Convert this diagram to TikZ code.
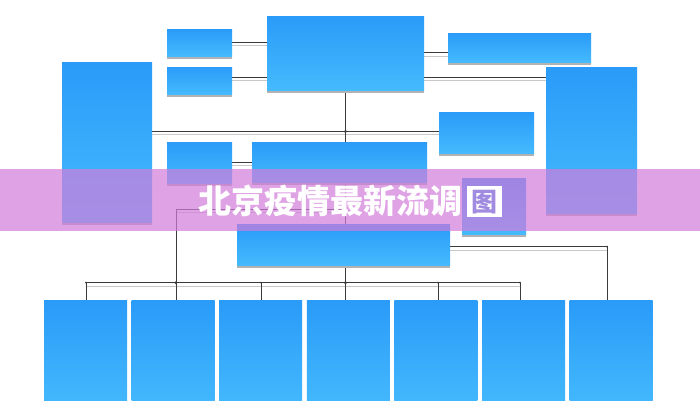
\documentclass[tikz,border=0pt]{standalone}
\usepackage{fontspec}
\newfontfamily\cjk{Noto Sans CJK SC}
\usetikzlibrary{shadows,calc}
\definecolor{boxtop}{HTML}{2A9BF8}
\definecolor{boxbot}{HTML}{45BAFD}
\definecolor{lineC}{HTML}{3A3A3A}
\definecolor{lineS}{HTML}{C8C8C8}
\definecolor{bandC}{RGB}{210,124,219}
\definecolor{glyphC}{HTML}{A08BE0}
\pgfdeclarelayer{bg}
\pgfsetlayers{bg,main}
\newcommand\wirepaths[1]{%
  \draw[#1] (A1.east) -- (A1.east -| T.west);
  \draw[#1] (A2.east |- yA2) -- (T.west |- yA2);
  \draw[#1] (T.east |- yR1) -- (R1.west |- yR1);
  \draw[#1] (T.east |- yR) -- (R.west |- yR);
  \draw[#1] (L.east |- j1) -- (R2.west |- j1);
  \draw[#1] (B1.east) -- (B1.east -| C.west);
  \draw[#1] (T.south) -- (T.south |- busL);
  \draw[#1] (T.south |- lb) -- (lb) -- (lb |- busL);
  \draw[#1] (D.east |- dR) -- (dR) -- (dR |- P7.north);
  \draw[#1] (busL) -- (busR);
  \foreach \x/\n in {86/P1,176/P2,261/P3,345.5/P4,438/P5,520/P6}
    \draw[#1] (\x,282.7) -- (\x,0 |- \n.north);
}
\begin{document}
\begin{tikzpicture}[x=1pt,y=-1pt,
  box/.style={rectangle, anchor=north west, inner sep=0pt, outer sep=0pt,
    top color=boxtop, bottom color=boxbot,
    drop shadow={shadow xshift=0pt, shadow yshift=-3pt, shadow scale=1, fill=black!30, opacity=1}},
  mainline/.style={draw=lineC, line width=0.9pt},
  shadowline/.style={draw=lineS, line width=0.9pt},
  dot/.style={circle, fill=lineC, inner sep=0pt, minimum size=3.2pt},
  tick/.style={circle, fill=lineC, inner sep=0pt, minimum size=2pt}]
\useasboundingbox (0,0) rectangle (700,400);
% boxes
\node[box, minimum width=65pt, minimum height=27pt] (A1) at (167,29) {};
\node[box, minimum width=65pt, minimum height=27pt] (A2) at (167,67) {};
\node[box, minimum width=90pt, minimum height=160pt] (L) at (62,62) {};
\node[box, minimum width=157pt, minimum height=74pt] (T) at (267,16) {};
\node[box, minimum width=143pt, minimum height=29pt] (R1) at (448,33) {};
\node[box, minimum width=91pt, minimum height=146pt] (R) at (546,67) {};
\node[box, minimum width=95pt, minimum height=41pt] (R2) at (439,112) {};
\node[box, minimum width=65pt, minimum height=41pt] (B1) at (167,142) {};
\node[box, minimum width=175pt, minimum height=40pt] (C) at (252,142) {};
\node[box, minimum width=64pt, minimum height=56pt] (R3) at (462,178) {};
\node[box, minimum width=213pt, minimum height=41pt] (D) at (237,224) {};
\foreach \i in {1,...,7}
  \node[box, minimum width=83pt, minimum height=110pt] (P\i) at ({44+87.6*(\i-1)},300.5) {};
% helper coordinates
\coordinate (yA2) at (0,77.3);
\coordinate (yR1) at (0,52.7);
\coordinate (yR) at (0,77);
\coordinate (j1) at (345.5,131.5);
\coordinate (lb) at (176,209);
\coordinate (dR) at (607,246.7);
\coordinate (busL) at (86,282.7);
\coordinate (busR) at (520,282.7);
% connectors
\begin{pgfonlayer}{bg}
  \fill[white] (0,0) rectangle (700,400);
  \begin{scope}[transform canvas={yshift=-3.4pt}]
    \wirepaths{shadowline}
  \end{scope}
  \wirepaths{mainline}
\end{pgfonlayer}
\node[dot] (d1) at (j1) {};
\node[dot] (d2) at (lb |- busL) {};
\node[dot] (d3) at (T.south |- busL) {};
\node[tick] (t1) at (261,282.7) {};
\node[tick] (t2) at (438,282.7) {};
\node[tick] (t3) at (busL) {};
\node[tick] (t4) at (busR) {};
\node[tick] (t5) at (dR) {};
% banner
\fill[bandC, opacity=0.7] (0,169) rectangle (700,231);
\node[text=white, font=\cjk\bfseries\fontsize{33}{33}\selectfont, anchor=west, inner sep=0pt] (title) at (198,201) {北京疫情最新流调};
\node[fill=white, inner sep=0pt, minimum width=35pt, minimum height=31pt, anchor=north west, text=glyphC, font=\cjk\bfseries\fontsize{26}{26}\selectfont] (tu) at (467,186) {图};
\end{tikzpicture}
\end{document}
